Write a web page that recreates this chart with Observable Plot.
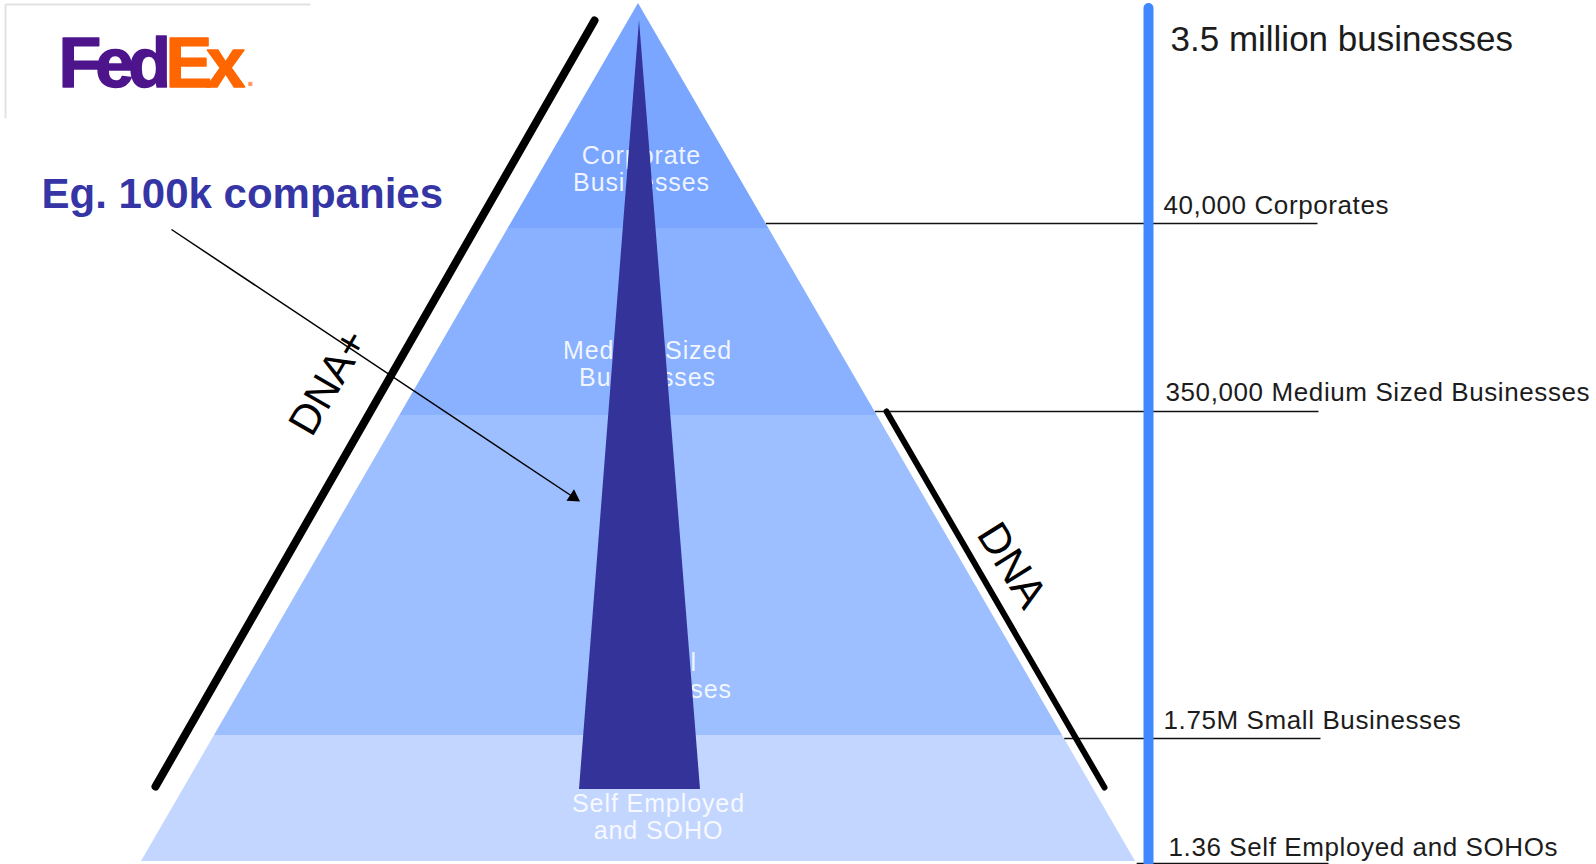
<!DOCTYPE html>
<html><head><meta charset="utf-8">
<script src="https://cdn.jsdelivr.net/npm/d3@7"></script>
<script src="https://cdn.jsdelivr.net/npm/@observablehq/plot@0.6"></script>
<style>html,body{margin:0;padding:0;background:#fff;overflow:hidden}#chart svg{display:block}</style>
</head><body><div id="chart"></div>
<script>
// ---- chart content ----
const tierNames = ["Corporate\nBusinesses", "Medium Sized\nBusinesses", "Small\nBusinesses", "Self Employed\nand SOHO"];
const tierCounts = ["40,000 Corporates", "350,000 Medium Sized Businesses", "1.75M Small Businesses", "1.36 Self Employed and SOHOs"];
const tierColors = ["#7AA6FF", "#8AB1FF", "#9DBEFF", "#C3D6FF"];
const totalLabel = "3.5 million businesses";
const calloutLabel = "Eg. 100k companies";
const sideLabels = ["DNA+", "DNA"];
const logoParts = ["Fed", "Ex", "."];
const logoColors = ["#4D148C", "#FF6600", "#FF9966"];

// ---- layout (diagram coordinates) ----
const W = 1596, H = 864;
const apex = {x: 638, y: 3}, baseY = 861, baseHalf = 497;
const tierEdges = [3, 228, 415, 735, 861];          // band boundaries
const tierLabelPos = [[641, 190], [647, 385], [663, 697], [658, 838]];
const countLineY = [223, 411, 738, 863];
const countLineEnd = [1317, 1318, 1320, 1328];
const countTextPos = [[1163, 213], [1165, 400], [1163, 728], [1168, 855]];
const half = y => baseHalf * (y - apex.y) / (baseY - apex.y);

const bandRows = tierColors.flatMap((c, i) => [tierEdges[i], tierEdges[i + 1]].map(y => ({
  band: i, y, x1: apex.x - half(y), x2: apex.x + half(y), fill: c
})));
const coreRows = [{y: 20, x1: 639, x2: 639}, {y: 789, x1: 579, x2: 700}];
const countLines = countLineY.map((y, i) => ({x1: apex.x + half(y), x2: countLineEnd[i], y}));
const tierLabelRows = tierNames.map((t, i) => ({t, x: tierLabelPos[i][0], y: tierLabelPos[i][1]}));
const countRows = tierCounts.map((t, i) => ({t, x: countTextPos[i][0], y: countTextPos[i][1]}));
const arrowSeg = {x1: 171, y1: 229, x2: 578, y2: 500};
const arrowAngle = Math.atan2(arrowSeg.y2 - arrowSeg.y1, arrowSeg.x2 - arrowSeg.x1) * 180 / Math.PI;
const arrowHead = {x: arrowSeg.x2 - 6 * Math.cos(arrowAngle * Math.PI / 180), y: arrowSeg.y2 - 6 * Math.sin(arrowAngle * Math.PI / 180)};

const font = "Liberation Sans, Arial, Helvetica, sans-serif";

const chart = Plot.plot({
  width: W, height: H, margin: 0,
  x: {domain: [0, W], range: [0, W], axis: null},
  y: {domain: [0, H], range: [0, H], axis: null},
  color: {type: "identity"},
  style: {background: "white", fontFamily: font},
  marks: [
    // logo frame
    Plot.link([{x1: 5, y1: 4, x2: 310, y2: 4}, {x1: 5, y1: 4, x2: 5, y2: 118}],
      {x1: "x1", y1: "y1", x2: "x2", y2: "y2", stroke: "#e2e2e2", strokeWidth: 2}),
    Plot.text([logoParts[0]], {x: 58, y: 86, text: d => d, textAnchor: "start", lineAnchor: "bottom",
      fontSize: 70, fontWeight: "bold", fill: logoColors[0], stroke: logoColors[0], strokeWidth: 1.5, fontFamily: font}),
    Plot.text([logoParts[1]], {x: 165, y: 86, text: d => d, textAnchor: "start", lineAnchor: "bottom",
      fontSize: 70, fontWeight: "bold", fill: logoColors[1], stroke: logoColors[1], strokeWidth: 1.5, fontFamily: font}),
    Plot.text([logoParts[2]], {x: 246, y: 85, text: d => d, textAnchor: "start", lineAnchor: "bottom",
      fontSize: 28, fontWeight: "bold", fill: logoColors[2], fontFamily: font}),
    // pyramid bands
    Plot.areaX(bandRows, {y: "y", x1: "x1", x2: "x2", z: "band", fill: "fill"}),
    // tier labels
    Plot.text(tierLabelRows, {x: "x", y: "y", text: "t", fill: "white", fillOpacity: 0.88, fontSize: 25,
      lineAnchor: "bottom", lineHeight: 1.08, fontFamily: font}),
    // inner dark triangle
    Plot.areaX(coreRows, {y: "y", x1: "x1", x2: "x2", fill: "#333399"}),
    // count lines
    Plot.link(countLines, {x1: "x1", x2: "x2", y1: "y", y2: "y", stroke: "#111", strokeWidth: 1.6}),
    // blue scale line
    Plot.ruleX([1148], {y1: 8, y2: H + 10, stroke: "#3F88FF", strokeWidth: 10, strokeLinecap: "round"}),
    // count labels
    Plot.text(countRows, {x: "x", y: "y", text: "t", textAnchor: "start", lineAnchor: "bottom",
      fontSize: 26, fill: "#1c1c1c", fontFamily: font}),
    Plot.text([totalLabel], {x: 1170, y: 50, text: d => d, textAnchor: "start", lineAnchor: "bottom",
      fontSize: 35, fill: "#1c1c1c", fontFamily: font}),
    // DNA lines
    Plot.link([{x1: 594, y1: 20, x2: 155, y2: 786}], {x1: "x1", y1: "y1", x2: "x2", y2: "y2",
      stroke: "black", strokeWidth: 8, strokeLinecap: "round"}),
    Plot.link([{x1: 886, y1: 411, x2: 1104, y2: 787}], {x1: "x1", y1: "y1", x2: "x2", y2: "y2",
      stroke: "black", strokeWidth: 6, strokeLinecap: "round"}),
    Plot.text([sideLabels[0]], {x: 328, y: 382, text: d => d, rotate: -60, fontSize: 42, fill: "black", fontFamily: font}),
    Plot.text([sideLabels[1]], {x: 1011, y: 565, text: d => d, rotate: 58, fontSize: 43, fill: "black", fontFamily: font}),
    // callout arrow
    Plot.link([arrowSeg], {x1: "x1", y1: "y1", x2: "x2", y2: "y2", stroke: "black", strokeWidth: 1.5}),
    Plot.dot([arrowHead], {x: "x", y: "y", symbol: "triangle2", r: 6.5, fill: "black", rotate: arrowAngle + 90}),
    Plot.text([calloutLabel], {x: 41, y: 207, text: d => d, textAnchor: "start", lineAnchor: "bottom",
      fontSize: 42, fontWeight: "bold", fill: "#3535A6", fontFamily: font})
  ]
});
document.getElementById("chart").append(chart);

// typographic spacing tweaks
const svg = d3.select(chart);
const spaced = new Map([...tierCounts.map(t => [t, 0.6]), ...tierNames.map(t => [t.replace("\n", ""), 0.9])]);
svg.selectAll("text").each(function () {
  const s = spaced.get(this.textContent);
  if (s != null) d3.select(this).attr("letter-spacing", s);
  if (logoParts.slice(0, 2).includes(this.textContent)) d3.select(this).attr("letter-spacing", -6);
});
</script>
</body></html>
